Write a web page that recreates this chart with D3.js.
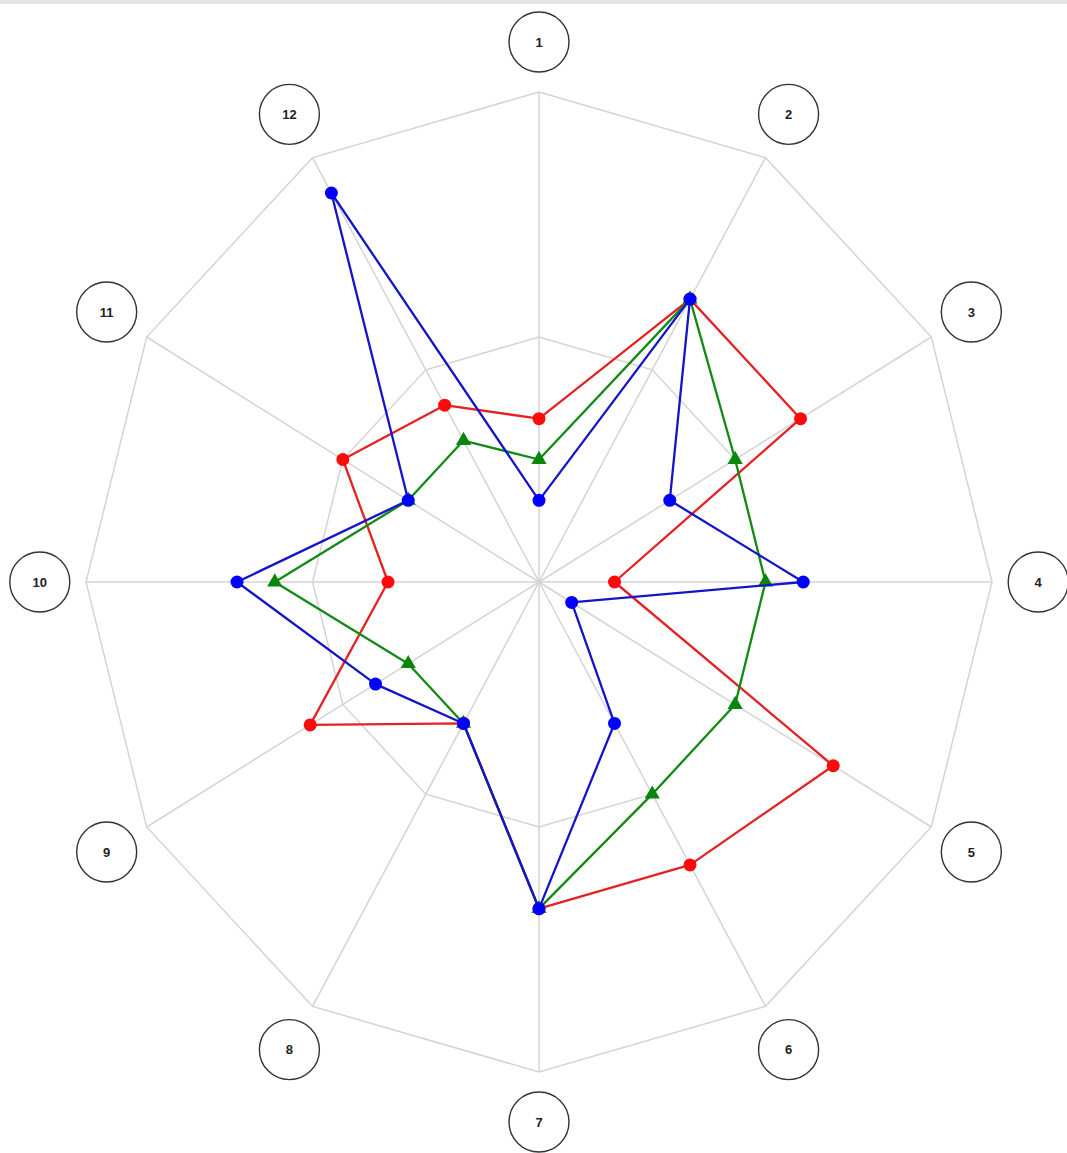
<!DOCTYPE html>
<html>
<head>
<meta charset="utf-8">
<script src="https://cdn.jsdelivr.net/npm/d3@7"></script>
<style>
  body { margin: 0; background: #fff; }
  svg { display: block; }
</style>
</head>
<body>
<svg width="1067" height="1153"></svg>
<script>
var width = 1067, height = 1153;

// axis labels, one per spoke
var axes = ["1", "2", "3", "4", "5", "6", "7", "8", "9", "10", "11", "12"];

// values on a 0..6 scale
var redValues   = [2, 4, 4, 1, 4.5, 4, 4, 2, 3.5, 2, 3, 2.5];
var greenValues = [1.5, 4, 3, 3, 3, 3, 4, 2, 2, 3.5, 2, 2];
var blueValues  = [1, 4, 2, 3.5, 0.5, 2, 4, 2, 2.5, 4, 2, 5.5];

var gridLevels = [3, 6];
var maxValue = 6;

var cx = 539, cy = 582;

// chart is a bit stretched vertically
var rx = d3.scaleLinear().domain([0, maxValue]).range([0, 453]);
var ry = d3.scaleLinear().domain([0, maxValue]).range([0, 490]);
var angle = d3.scaleLinear().domain([0, axes.length]).range([0, 2 * Math.PI]);

function px(i, v) { return cx + rx(v) * Math.sin(angle(i)); }
function py(i, v) { return cy - ry(v) * Math.cos(angle(i)); }

var svg = d3.select("svg");

svg.append("rect")
    .attr("x", 0).attr("y", 0)
    .attr("width", width).attr("height", 4)
    .attr("fill", "#e4e4e4");

var grid = svg.append("g").attr("class", "grid");

grid.selectAll("line.spoke")
    .data(axes)
    .enter().append("line")
    .attr("class", "spoke")
    .attr("x1", cx).attr("y1", cy)
    .attr("x2", function(d, i) { return px(i, maxValue); })
    .attr("y2", function(d, i) { return py(i, maxValue); })
    .attr("stroke", "#d4d4d4")
    .attr("stroke-width", 1.5);

grid.selectAll("polygon.ring")
    .data(gridLevels)
    .enter().append("polygon")
    .attr("class", "ring")
    .attr("points", function(lv) {
        return axes.map(function(a, i) { return px(i, lv) + "," + py(i, lv); }).join(" ");
    })
    .attr("fill", "none")
    .attr("stroke", "#d4d4d4")
    .attr("stroke-width", 1.5);

var labels = svg.append("g").attr("class", "labels")
    .selectAll("g")
    .data(axes)
    .enter().append("g")
    .attr("transform", function(d, i) {
        return "translate(" + px(i, maxValue * 1.102) + "," + py(i, maxValue * 1.102) + ")";
    });

labels.append("circle")
    .attr("r", 30)
    .attr("fill", "#fff")
    .attr("stroke", "#333")
    .attr("stroke-width", 1.4);

labels.append("text")
    .attr("text-anchor", "middle")
    .attr("dy", "0.36em")
    .attr("font-family", "Liberation Sans, Arial, sans-serif")
    .attr("font-weight", "bold")
    .attr("font-size", 13)
    .attr("fill", "#222")
    .text(function(d) { return d; });

var series = [
    { name: "red",   values: redValues,   line: "#e42222", fill: "#ff0a0a", shape: "circle" },
    { name: "green", values: greenValues, line: "#138a13", fill: "#0a860a", shape: "triangle" },
    { name: "blue",  values: blueValues,  line: "#1414c8", fill: "#0000ff", shape: "circle" }
];

var lineGen = d3.line()
    .x(function(d) { return px(d.i, d.v); })
    .y(function(d) { return py(d.i, d.v); })
    .curve(d3.curveLinearClosed);

series.forEach(function(s) {
    var pts = s.values.map(function(v, i) { return { i: i, v: v }; });
    var g = svg.append("g").attr("class", "series-" + s.name);

    g.append("path")
        .datum(pts)
        .attr("d", lineGen)
        .attr("fill", "none")
        .attr("stroke", s.line)
        .attr("stroke-width", 2.3)
        .attr("stroke-linejoin", "round");

    if (s.shape == "circle") {
        g.selectAll("circle")
            .data(pts)
            .enter().append("circle")
            .attr("cx", function(d) { return px(d.i, d.v); })
            .attr("cy", function(d) { return py(d.i, d.v); })
            .attr("r", 6.5)
            .attr("fill", s.fill);
    } else {
        g.selectAll("path.mark")
            .data(pts)
            .enter().append("path")
            .attr("class", "mark")
            .attr("d", d3.symbol().type(d3.symbolTriangle).size(100))
            .attr("transform", function(d) {
                return "translate(" + px(d.i, d.v) + "," + py(d.i, d.v) + ")";
            })
            .attr("fill", s.fill);
    }
});
</script>
</body>
</html>
